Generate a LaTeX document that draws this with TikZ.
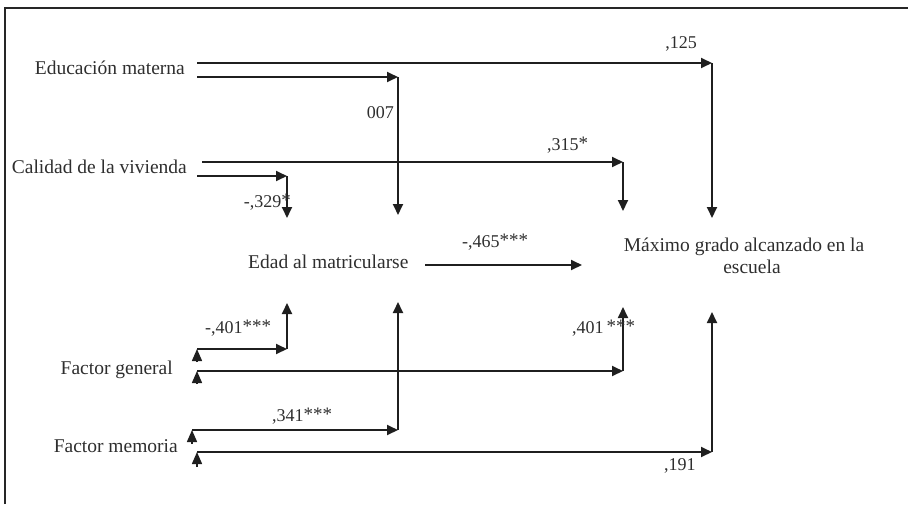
\documentclass[tikz,border=0pt]{standalone}
\usepackage{fontspec}
\setmainfont{Liberation Serif}
\usetikzlibrary{arrows.meta}
\newcommand{\stars}[1]{\raisebox{0.05em}{\fontsize{19}{19}\selectfont #1}}
\begin{document}
\begin{tikzpicture}[x=1pt,y=-1pt,
  ink/.style={draw=black!88},
  conn/.style={ink,line width=1.8pt,-{Triangle[length=11pt,width=10pt]}},
  starttip/.style={ink,line width=1.5pt,-{Triangle[length=12pt,width=10pt]}},
  vname/.style={font=\fontsize{19.5}{22}\selectfont,inner sep=0pt,text=black!82},
  coef/.style={font=\fontsize{18}{20}\selectfont,inner sep=0pt,text=black!82}]
\useasboundingbox (0,0) rectangle (908,504);
% frame (partially visible)
\draw[black!85,line width=2pt] (5,504) -- (5,8) -- (908,8);

% variable names
\node[vname,anchor=base east] (edu) at (185,74) {Educación materna};
\node[vname,anchor=base east] (cal) at (187,173) {Calidad de la vivienda};
\node[vname,anchor=base west] (edad) at (248,268) {Edad al matricularse};
\node[vname,anchor=base] (max) at (744,251) {Máximo grado alcanzado en la};
\node[vname,anchor=base] (esc) at (752,273) {escuela};
\node[vname,anchor=base east] (gen) at (173,374) {Factor general};
\node[vname,anchor=base east] (mem) at (178,452) {Factor memoria};

% coordinates
\coordinate (e1s) at (197,63);  \coordinate (e1c) at (712,63);  \coordinate (e1e) at (712,218);
\coordinate (e2s) at (197,77);  \coordinate (e2c) at (398,77);  \coordinate (e2e) at (398,215);
\coordinate (c1s) at (202,162); \coordinate (c1c) at (623,162); \coordinate (c1e) at (623,211);
\coordinate (c2s) at (197,176); \coordinate (c2c) at (287,176); \coordinate (c2e) at (287,218);
\coordinate (ds)  at (425,265); \coordinate (de)  at (582,265);
\coordinate (g1s) at (197,349); \coordinate (g1c) at (287,349); \coordinate (g1e) at (287,303);
\coordinate (g1b) at (197,362);
\coordinate (g2s) at (197,371); \coordinate (g2c) at (623,371); \coordinate (g2e) at (623,307);
\coordinate (g2b) at (197,384);
\coordinate (m1s) at (192,430); \coordinate (m1c) at (398,430); \coordinate (m1e) at (398,302);
\coordinate (m1b) at (192,444);
\coordinate (m2s) at (197,452); \coordinate (m2c) at (712,452); \coordinate (m2e) at (712,312);
\coordinate (m2b) at (197,467);

% connectors
\draw[conn] (e1s) -- (e1c); \draw[conn] (e1c) -- (e1e);
\draw[conn] (e2s) -- (e2c); \draw[conn] (e2c) -- (e2e);
\draw[conn] (c1s) -- (c1c); \draw[conn] (c1c) -- (c1e);
\draw[conn] (c2s) -- (c2c); \draw[conn] (c2c) -- (c2e);
\draw[conn] (ds) -- (de);
\draw[conn] (g1s) -- (g1c); \draw[conn] (g1c) -- (g1e);
\draw[conn] (g2s) -- (g2c); \draw[conn] (g2c) -- (g2e);
\draw[conn] (m1s) -- (m1c); \draw[conn] (m1c) -- (m1e);
\draw[conn] (m2s) -- (m2c); \draw[conn] (m2c) -- (m2e);
% start tips
\draw[starttip] (g1b) -- (g1s);
\draw[starttip] (g2b) -- (g2s);
\draw[starttip] (m1b) -- (m1s);
\draw[starttip] (m2b) -- (m2s);

% coefficients
\node[coef,anchor=base] (l125) at (681,48) {,125};
\node[coef,anchor=base east] (l007) at (394,118) {007};
\node[coef,anchor=base west] (l315) at (547,150) {,315\stars{*}};
\node[coef,anchor=base east] (l329) at (291,207) {-,329\stars{*}};
\node[coef,anchor=base west] (l465) at (462,247) {-,465\stars{***}};
\node[coef,anchor=base west] (l401a) at (205,333) {-,401\stars{***}};
\node[coef,anchor=base west] (l401b) at (572,333) {,401\,\stars{***}};
\node[coef,anchor=base west] (l341) at (272,421) {,341\stars{***}};
\node[coef,anchor=base west] (l191) at (664,470) {,191};
\end{tikzpicture}
\end{document}
